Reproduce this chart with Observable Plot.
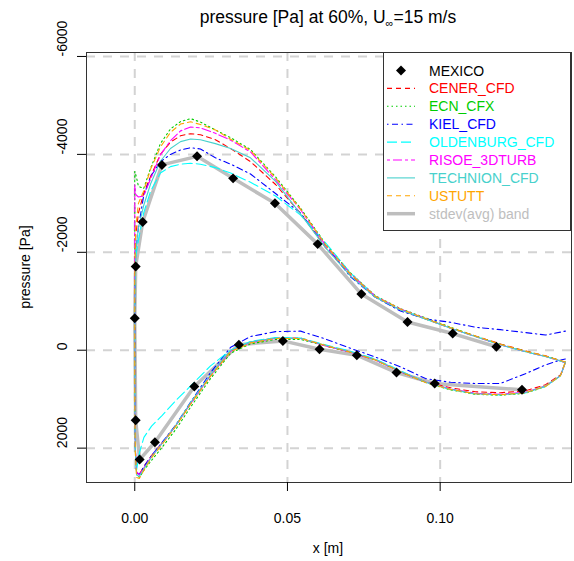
<!DOCTYPE html>
<html><head><meta charset="utf-8">
<script src="https://cdn.jsdelivr.net/npm/d3@7"></script>
<script src="https://cdn.jsdelivr.net/npm/@observablehq/plot@0.6"></script>
<style>body{margin:0;background:#fff;}#chart{width:574px;height:561px;}</style>
</head><body><div id="chart"></div>
<script>
// ---- data ----
const xTicks = [0, 0.05, 0.10];
const yTicks = [-6000, -4000, -2000, 0, 2000];

// measured points (MEXICO), around the section: upper TE -> LE -> lower TE
const mexicoX = [0.1184, 0.1041, 0.0893, 0.0742, 0.0599, 0.0459, 0.0322, 0.0204, 0.0089, 0.0026, 0.0003, 0.0000, 0.0003, 0.0016, 0.0066, 0.0195, 0.0341, 0.0485, 0.0605, 0.0727, 0.0857, 0.0982, 0.1268];
const mexicoP = [-70, -340, -575, -1146, -2167, -3000, -3510, -3960, -3785, -2620, -1710, -655, 1430, 2234, 1880, 742, -114, -190, -20, 102, 456, 680, 808];

// stations of the computed curves
const xUpper = [0.1410, 0.1345, 0.1279, 0.1197, 0.1115, 0.1034, 0.0952, 0.0870, 0.0788, 0.0706, 0.0624, 0.0543, 0.0461, 0.0379, 0.0314, 0.0264, 0.0215, 0.0183, 0.0150, 0.0117, 0.0084, 0.0052, 0.0029, 0.0012, 0.0003, 0.0000];
const xLower = [0.0000, 0.0002, 0.0006, 0.0015, 0.0030, 0.0055, 0.0090, 0.0134, 0.0183, 0.0248, 0.0314, 0.0379, 0.0461, 0.0543, 0.0624, 0.0706, 0.0788, 0.0870, 0.0952, 0.1034, 0.1115, 0.1197, 0.1279, 0.1345, 0.1394, 0.1410];

const cenerUpper = [250, 116, 14, -128, -291, -454, -637, -820, -1085, -1532, -2102, -2794, -3385, -3853, -4117, -4300, -4400, -4423, -4382, -4250, -4000, -3550, -3200, -2800, -2330, -1200];
const cenerLower = [1032, 2049, 2497, 2537, 2375, 2151, 1887, 1541, 1093, 523, 14, -169, -250, -250, -88, 35, 197, 441, 645, 767, 849, 869, 828, 706, 503, 250];
const ecnUpper = [240, 120, 20, -120, -290, -470, -660, -850, -1110, -1580, -2180, -2900, -3540, -4100, -4340, -4500, -4660, -4730, -4670, -4520, -4220, -3720, -3300, -3350, -3600, -3650];
const ecnLower = [1000, 2050, 2520, 2600, 2450, 2250, 1980, 1620, 1160, 580, 60, -130, -220, -220, -90, 40, 200, 440, 660, 810, 900, 920, 880, 740, 520, 240];
const kielUpper = [-390, -310, -360, -420, -470, -570, -640, -800, -1080, -1500, -2150, -2800, -3200, -3600, -3800, -3930, -4110, -4137, -4090, -4000, -3850, -3550, -3150, -2500, -2000, -800];
const kielLower = [900, 2000, 2500, 2540, 2380, 2150, 1880, 1530, 1060, 460, -60, -280, -380, -390, -230, -40, 140, 340, 580, 655, 680, 680, 480, 300, 200, 180];
const oldenburgUpper = [250, 130, 30, -110, -280, -450, -640, -830, -1100, -1580, -2200, -2760, -3150, -3430, -3620, -3730, -3800, -3818, -3800, -3750, -3620, -3250, -2800, -2250, -1900, -1000];
const oldenburgLower = [1000, 2000, 2450, 2100, 1780, 1550, 1330, 1030, 730, 320, 0, -180, -260, -250, -110, 20, 180, 420, 650, 800, 890, 910, 870, 740, 520, 250];
const risoeUpper = [250, 130, 30, -110, -280, -450, -650, -840, -1100, -1560, -2150, -2870, -3480, -4050, -4290, -4430, -4540, -4560, -4480, -4280, -3990, -3500, -3150, -3130, -3180, -3380];
const risoeLower = [1000, 2000, 2480, 2550, 2400, 2170, 1900, 1550, 1090, 520, 20, -160, -240, -240, -90, 40, 200, 440, 650, 790, 880, 900, 860, 730, 520, 250];
const technionUpper = [250, 130, 30, -110, -280, -450, -640, -820, -1080, -1520, -2100, -2780, -3450, -3930, -4120, -4220, -4300, -4314, -4260, -4120, -3860, -3400, -2950, -2500, -2000, -800];
const technionLower = [1100, 2100, 2550, 2580, 2420, 2180, 1900, 1540, 1070, 500, 0, -170, -250, -240, -100, 30, 190, 430, 650, 800, 890, 910, 870, 730, 520, 250];
const ustuttUpper = [240, 120, 20, -120, -290, -460, -650, -840, -1100, -1560, -2160, -2880, -3520, -4080, -4310, -4500, -4610, -4665, -4620, -4450, -4150, -3700, -3250, -3000, -2500, -1500];
const ustuttLower = [1050, 2100, 2600, 2620, 2450, 2200, 1920, 1560, 1100, 530, 30, -150, -240, -240, -100, 40, 200, 440, 660, 800, 890, 910, 870, 740, 520, 240];

const modelNames = ["CENER_CFD", "ECN_CFX", "KIEL_CFD", "OLDENBURG_CFD", "RISOE_3DTURB", "TECHNION_CFD", "USTUTT"];
const modelUpper = [cenerUpper, ecnUpper, kielUpper, oldenburgUpper, risoeUpper, technionUpper, ustuttUpper];
const modelLower = [cenerLower, ecnLower, kielLower, oldenburgLower, risoeLower, technionLower, ustuttLower];
const modelColors = ["#FF0000", "#00CD00", "#0000FF", "#00FFFF", "#FF00FF", "#48D1CC", "#FFA500"];
const modelDash = ["5,4", "1.5,3", "1.5,3.5,6,3.5", "10,4", "3,3,9,3", null, "5,4"];
const bandColor = "#BEBEBE";

// ---- build tables ----
const mexico = mexicoX.map((x, i) => ({x, p: mexicoP[i]}));
const models = modelNames.map((name, k) => ({
  name,
  rows: [
    ...xUpper.map((x, i) => ({x, p: modelUpper[k][i]})),
    ...xLower.map((x, i) => ({x, p: modelLower[k][i]}))
  ]
}));

const W = 574, H = 561;
const font = "'Liberation Sans', Arial, Helvetica, sans-serif";

const plot = Plot.plot({
  width: W, height: H,
  marginLeft: 86, marginRight: 3, marginTop: 52, marginBottom: 79,
  style: {fontFamily: font, fontSize: "14px", color: "#000", background: "#fff"},
  x: {domain: [-0.0158, 0.143]},
  y: {domain: [-6081, 2702], reverse: true},
  marks: [
    Plot.ruleX(xTicks, {stroke: "#D3D3D3", strokeWidth: 2, strokeDasharray: "9,8"}),
    Plot.ruleY(yTicks, {stroke: "#D3D3D3", strokeWidth: 2, strokeDasharray: "9,8"}),
    Plot.line(mexico, {x: "x", y: "p", stroke: bandColor, strokeWidth: 3.5, clip: true}),
    ...models.map((m, k) => Plot.line(m.rows, {
      x: "x", y: "p", stroke: modelColors[k], strokeWidth: 1.1,
      strokeDasharray: modelDash[k] || undefined, clip: true, curve: "linear"
    })),
    Plot.dot(mexico, {x: "x", y: "p", symbol: "diamond2", r: 4.5, fill: "#000", stroke: "none"}),
    Plot.frame({stroke: "#333"}),
    Plot.axisX({ticks: xTicks, tickFormat: d => d.toFixed(2), tickSize: 9, tickPadding: 22, label: null, fontSize: 14}),
    Plot.axisY({ticks: yTicks, tickSize: 9, tickFormat: () => "", label: null}),
    Plot.text(yTicks, {y: d => d, text: d => String(d), frameAnchor: "left", dx: -24, rotate: -90, fontSize: 14, fill: "#000"})
  ]
});

document.getElementById("chart").appendChild(plot);
const svg = d3.select(plot);

// title
const title = svg.append("text").attr("x", 328).attr("y", 23).attr("text-anchor", "middle")
  .attr("font-family", font).attr("font-size", 17.5).attr("fill", "#000");
title.append("tspan").text("pressure [Pa] at 60%, U");
title.append("tspan").attr("font-size", 11).attr("dy", 4).text("∞");
title.append("tspan").attr("dy", -4).text("=15 m/s");

// axis titles
svg.append("text").attr("x", 328).attr("y", 553).attr("text-anchor", "middle")
  .attr("font-family", font).attr("font-size", 14).text("x [m]");
svg.append("text").attr("transform", "translate(30,267) rotate(-90)").attr("text-anchor", "middle")
  .attr("font-family", font).attr("font-size", 14).text("pressure [Pa]");

// legend
const lg = svg.append("g");
lg.append("rect").attr("x", 383.5).attr("y", 52.5).attr("width", 187).attr("height", 178)
  .attr("fill", "#fff").attr("stroke", "#333");
const entries = [{name: "MEXICO", color: "#000", kind: "dot"}]
  .concat(modelNames.map((n, k) => ({name: n, color: modelColors[k], dash: modelDash[k], kind: "line"})))
  .concat([{name: "stdev(avg) band", color: bandColor, kind: "band"}]);
entries.forEach((e, i) => {
  const y = 70.5 + i * 17.9;
  if (e.kind === "dot") {
    lg.append("path").attr("d", d3.symbol(d3.symbolDiamond2, Math.PI * 4.5 * 4.5)())
      .attr("transform", `translate(401,${y})`).attr("fill", "#000");
  } else {
    lg.append("line").attr("x1", 387).attr("x2", 415).attr("y1", y).attr("y2", y)
      .attr("stroke", e.color).attr("stroke-width", e.kind === "band" ? 3.5 : 1.1)
      .attr("stroke-dasharray", e.dash || null);
  }
  lg.append("text").attr("x", 429).attr("y", y + 5).attr("text-anchor", "start")
    .attr("font-family", font).attr("font-size", 14)
    .attr("fill", e.color).text(e.name);
});
</script>
</body></html>
